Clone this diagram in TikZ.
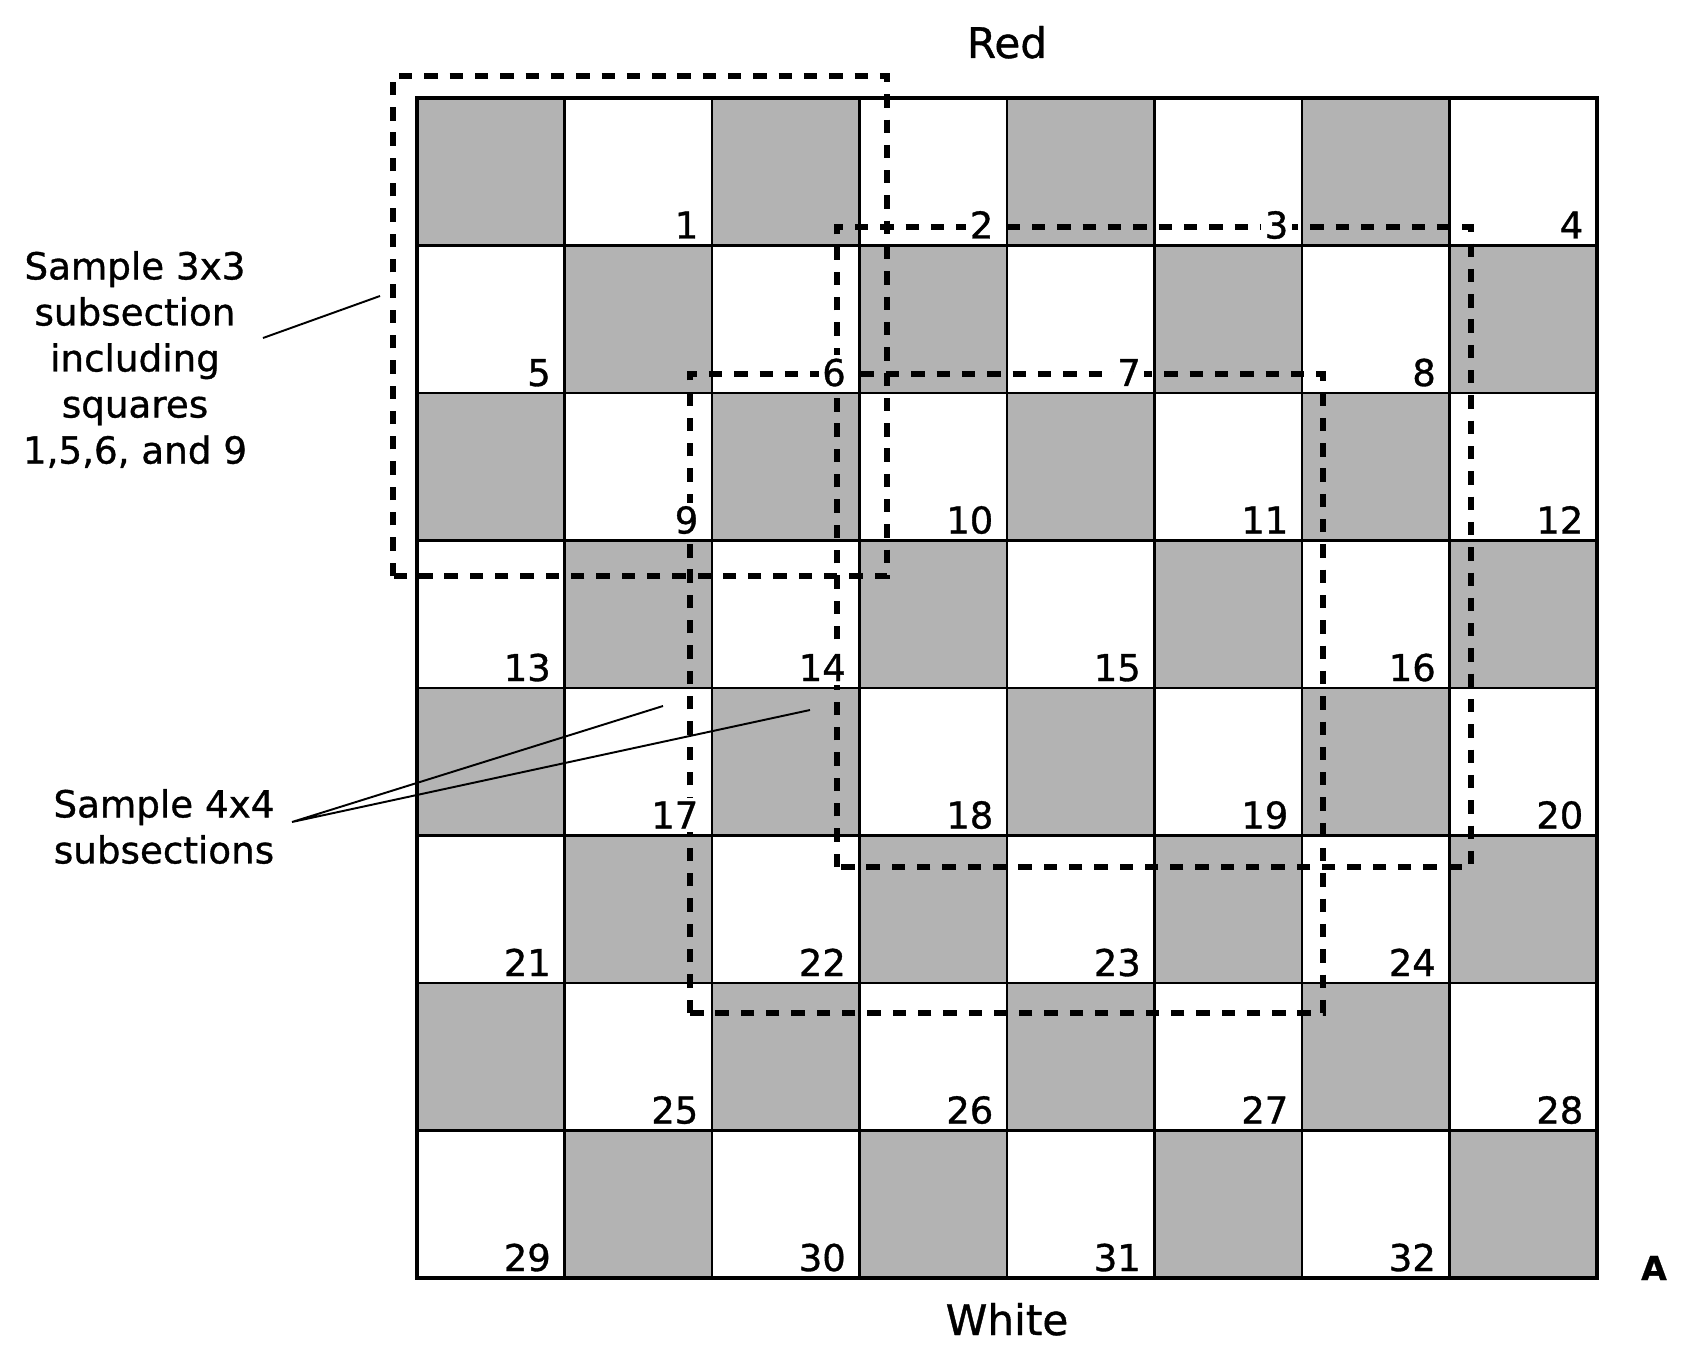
\documentclass[tikz,border=0pt]{standalone}
\usepackage{fontspec}
\setmainfont{DejaVu Sans}[FakeBold=0.9]
\usepackage{tikz}
\usepackage{xcolor}
\definecolor{boardgray}{RGB}{179,179,179}

\begin{document}
\begin{tikzpicture}[
    cellnum/.style={anchor=base east, fill=white, inner sep=1pt, font=\fontsize{10.5}{12}\selectfont},
    subbox/.style={line width=1.6pt, dash pattern=on 3.8pt off 3.4pt},
    pointer/.style={line width=0.55pt},
    caption/.style={align=center, font=\fontsize{10.6}{13.1}\selectfont},
    side/.style={anchor=base, font=\fontsize{12}{14}\selectfont}
  ]
    \useasboundingbox (-4.17, -0.72) rectangle (12.69, 12.78);

    % board squares
    \foreach \r in {0,...,7} {
      \foreach \c in {0,...,7} {
        \pgfmathtruncatemacro{\odd}{mod(\r+\c,2)}
        \ifnum\odd=0
          \fill[boardgray] (\c*1.475, {(7-\r)*1.475}) rectangle ++(1.475, 1.475);
        \fi
      }
    }
    \foreach \i in {1,...,7} {
      \draw[line width=0.8pt] (0, \i*1.475) -- (11.8, \i*1.475);
      \draw[line width=0.65pt] (\i*1.475, 0) -- (\i*1.475, 11.8);
    }
    \draw[line width=0.9pt] (0,0) rectangle (11.8,11.8);

    % sample subsections
    \draw[subbox] (-0.24, 7.02) rectangle (4.70, 12.02);
    \draw[subbox] (4.20, 4.11) rectangle (10.54, 10.51);
    \draw[subbox] (2.73, 2.65) rectangle (9.06, 9.04);

    % square numbers
    \foreach \r in {0,...,7} {
      \foreach \c in {0,...,7} {
        \pgfmathtruncatemacro{\odd}{mod(\r+\c,2)}
        \ifnum\odd=1
          \pgfmathtruncatemacro{\num}{4*\r+int(\c/2)+1}
          \node[cellnum] (n\num) at ({(\c+1)*1.475-0.095}, {(7-\r)*1.475+0.07}) {\num};
        \fi
      }
    }

    \node[side] (red) at (5.9, 12.20) {Red};
    \node[side] (white) at (5.9, -0.57) {White};
    \node[anchor=base, font=\bfseries\fontsize{9.4}{11}\selectfont] (corner) at (12.37, -0.02) {A};

    \node[caption] (lab3x3) at (-2.82, 9.185) {Sample 3x3\\subsection\\including\\squares\\1,5,6, and 9};
    \node[caption] (lab4x4) at (-2.53, 4.515) {Sample 4x4\\subsections};

    \coordinate (P3a) at (-1.54, 9.40);
    \coordinate (P3b) at (-0.37, 9.82);
    \coordinate (P4a) at (-1.25, 4.56);
    \coordinate (P4b) at (2.46, 5.72);
    \coordinate (P4c) at (3.93, 5.68);
    \draw[pointer] (P3a) -- (P3b);
    \draw[pointer] (P4b) -- (P4a) -- (P4c);

\end{tikzpicture}
\end{document}
